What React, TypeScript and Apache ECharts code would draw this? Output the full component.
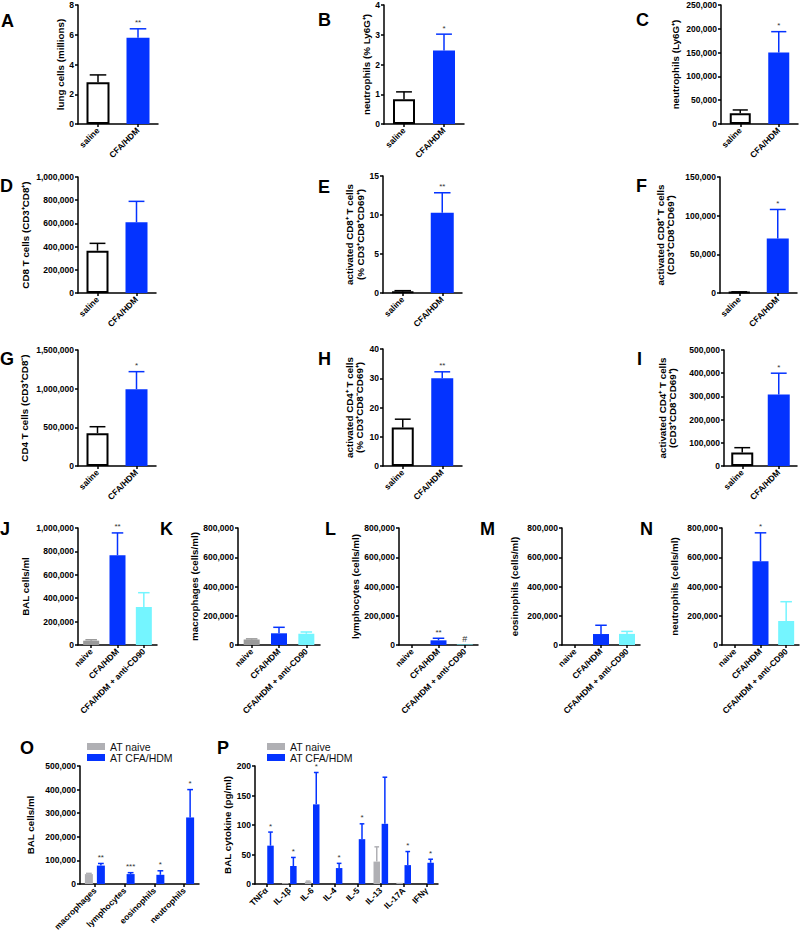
import React, { useEffect, useRef } from 'react';
import * as echarts from 'echarts';

const FONT = 'Arial, "Liberation Sans", Helvetica, sans-serif';
const BLUE = '#0433ff';
const CYAN = '#74f5ff';
const GREY = '#9a9a9a';
const GREY_AT = '#b0b0b4';

// categories
const twoGroups = ['saline', 'CFA/HDM'];
const threeGroups = ['naive', 'CFA/HDM', 'CFA/HDM + anti-CD90'];
const cellTypes = ['macrophages', 'lymphocytes', 'eosinophils', 'neutrophils'];
const cytokines = ['TNFα', 'IL-1β', 'IL-6', 'IL-4', 'IL-5', 'IL-13', 'IL-17A', 'IFNγ'];
const legendNames = ['AT naive', 'AT CFA/HDM'];

// A lung cells (millions)
const aMean = [2.8, 5.8];
const aTop = [3.3, 6.4];
const aSig = ['', '**'];
// B neutrophils (% Ly6G+)
const bMean = [0.83, 2.47];
const bTop = [1.08, 3.02];
const bSig = ['', '*'];
// C neutrophils (Ly6G+)
const cMean = [22500, 150000];
const cTop = [29500, 194000];
const cSig = ['', '*'];
// D CD8 T cells
const dMean = [365000, 610000];
const dTop = [428000, 790000];
const dSig = ['', ''];
// E activated CD8 (%)
const eMean = [0.2, 10.3];
const eTop = [0.3, 12.85];
const eSig = ['', '**'];
// F activated CD8 (count)
const fMean = [1000, 70500];
const fTop = [1500, 108000];
const fSig = ['', '*'];
// G CD4 T cells
const gMean = [425000, 993000];
const gTop = [508000, 1220000];
const gSig = ['', '*'];
// H activated CD4 (%)
const hMean = [13.2, 30.0];
const hTop = [16.0, 32.2];
const hSig = ['', '**'];
// I activated CD4 (count)
const iMean = [58000, 308000];
const iTop = [79000, 400000];
const iSig = ['', '*'];
// J BAL cells/ml
const jMean = [37000, 767000, 325000];
const jTop = [45000, 958000, 447000];
const jSig = ['', '**', ''];
// K macrophages
const kMean = [37000, 80000, 77000];
const kTop = [42000, 121000, 89000];
const kSig = ['', '', ''];
// L lymphocytes
const lMean = [0, 32000, 4000];
const lTop = [0, 46000, 4000];
const lSig = ['', '**', '#'];
// M eosinophils
const mMean = [0, 75000, 76000];
const mTop = [0, 135000, 93000];
const mSig = ['', '', ''];
// N neutrophils
const nMean = [0, 572000, 164000];
const nTop = [0, 767000, 296000];
const nSig = ['', '*', ''];
// O BAL cells/ml adoptive transfer
const oNaiveMean = [42000, 0, 0, 0];
const oNaiveTop = [45000, 0, 0, 0];
const oCfaMean = [78000, 42000, 39000, 282000];
const oCfaTop = [87000, 48000, 56000, 400000];
const oCfaSig = ['**', '***', '*', '*'];
// P BAL cytokine (pg/ml)
const pNaiveMean = [0, 1.5, 4, 0, 0, 38, 2, 0];
const pNaiveTop = [0, 1.5, 5, 0, 0, 63, 2, 0];
const pCfaMean = [65, 30.5, 135, 27, 76, 102, 32, 36];
const pCfaTop = [88, 45, 189, 35, 102, 181, 55, 42];
const pCfaSig = ['*', '*', '*', '*', '*', '', '*', '*'];

const empty = (n: number) => new Array(n).fill('');

type BarSet = {
  name?: string;
  mean: number[];
  top: number[];
  sig: string[];
  fills: string[];
  borders?: string[];
  errColors: string[];
  width: number;
  offset: number;
  mainColor?: string;
};

type Panel = {
  letter: string;
  lx: number;
  ly: number;
  left: number;
  top: number;
  width: number;
  height: number;
  cats: string[];
  max: number;
  interval: number;
  yName: string;
  nameGap: number;
  sets: BarSet[];
  barGap?: string;
};

const twoSet = (mean: number[], top: number[], sig: string[], width: number): BarSet => ({
  mean,
  top,
  sig,
  fills: ['#ffffff', BLUE],
  borders: ['#000000', BLUE],
  errColors: ['#000000', BLUE],
  width,
  offset: 0,
});

const threeSet = (mean: number[], top: number[], sig: string[]): BarSet => ({
  mean,
  top,
  sig,
  fills: [GREY, BLUE, CYAN],
  errColors: [GREY, BLUE, CYAN],
  width: 16,
  offset: 0,
});

const panels: Panel[] = [
  { letter: 'A', lx: 1, ly: 12, left: 78, top: 5, width: 80, height: 119, cats: twoGroups, max: 8, interval: 2, yName: 'lung cells (millions)', nameGap: 12, sets: [twoSet(aMean, aTop, aSig, 23)] },
  { letter: 'B', lx: 318, ly: 11, left: 384, top: 5, width: 80, height: 119, cats: twoGroups, max: 4, interval: 1, yName: 'neutrophils (% Ly6G⁺)', nameGap: 11, sets: [twoSet(bMean, bTop, bSig, 22)] },
  { letter: 'C', lx: 636, ly: 11, left: 721, top: 5, width: 77, height: 119, cats: twoGroups, max: 250000, interval: 50000, yName: 'neutrophils (Ly6G⁺)', nameGap: 40, sets: [twoSet(cMean, cTop, cSig, 21)] },
  { letter: 'D', lx: 0, ly: 177, left: 78, top: 177, width: 78, height: 116, cats: twoGroups, max: 1000000, interval: 200000, yName: 'CD8 T cells (CD3⁺CD8⁺)', nameGap: 47, sets: [twoSet(dMean, dTop, dSig, 22)] },
  { letter: 'E', lx: 318, ly: 178, left: 383, top: 176, width: 79, height: 117, cats: twoGroups, max: 15, interval: 5, yName: 'activated CD8⁺ T cells\n(% CD3⁺CD8⁺CD69⁺)', nameGap: 17, sets: [twoSet(eMean, eTop, eSig, 23)] },
  { letter: 'F', lx: 636, ly: 177, left: 720, top: 177, width: 77, height: 116, cats: twoGroups, max: 150000, interval: 50000, yName: 'activated CD8⁺ T cells\n(CD3⁺CD8⁺CD69⁺)', nameGap: 44, sets: [twoSet(fMean, fTop, fSig, 22)] },
  { letter: 'G', lx: 0, ly: 350, left: 78, top: 350, width: 78, height: 116, cats: twoGroups, max: 1500000, interval: 500000, yName: 'CD4 T cells (CD3⁺CD8⁻)', nameGap: 48, sets: [twoSet(gMean, gTop, gSig, 22)] },
  { letter: 'H', lx: 318, ly: 350, left: 383, top: 349, width: 79, height: 117, cats: twoGroups, max: 40, interval: 10, yName: 'activated CD4⁺ T cells\n(% CD3⁺CD8⁻CD69⁺)', nameGap: 18, sets: [twoSet(hMean, hTop, hSig, 22)] },
  { letter: 'I', lx: 637, ly: 350, left: 724, top: 350, width: 73, height: 116, cats: twoGroups, max: 500000, interval: 100000, yName: 'activated CD4⁺ T cells\n(CD3⁺CD8⁻CD69⁺)', nameGap: 46, sets: [twoSet(iMean, iTop, iSig, 22)] },
  { letter: 'J', lx: 0, ly: 520, left: 78, top: 528, width: 79, height: 117, cats: threeGroups, max: 1000000, interval: 200000, yName: 'BAL cells/ml', nameGap: 47, sets: [threeSet(jMean, jTop, jSig)] },
  { letter: 'K', lx: 160, ly: 520, left: 238, top: 528, width: 82, height: 117, cats: threeGroups, max: 800000, interval: 200000, yName: 'macrophages (cells/ml)', nameGap: 38, sets: [threeSet(kMean, kTop, kSig)] },
  { letter: 'L', lx: 325, ly: 520, left: 399, top: 528, width: 79, height: 117, cats: threeGroups, max: 800000, interval: 200000, yName: 'lymphocytes (cells/ml)', nameGap: 38, sets: [threeSet(lMean, lTop, lSig)] },
  { letter: 'M', lx: 480, ly: 520, left: 562, top: 528, width: 78, height: 117, cats: threeGroups, max: 800000, interval: 200000, yName: 'eosinophils (cells/ml)', nameGap: 42, sets: [threeSet(mMean, mTop, mSig)] },
  { letter: 'N', lx: 640, ly: 520, left: 722, top: 528, width: 77, height: 117, cats: threeGroups, max: 800000, interval: 200000, yName: 'neutrophils (cells/ml)', nameGap: 42, sets: [threeSet(nMean, nTop, nSig)] },
  {
    letter: 'O', lx: 20, ly: 739, left: 80, top: 766, width: 119, height: 118, cats: cellTypes, max: 500000, interval: 100000, yName: 'BAL cells/ml', nameGap: 44, barGap: '50%',
    sets: [
      { name: legendNames[0], mean: oNaiveMean, top: oNaiveTop, sig: empty(4), fills: new Array(4).fill(GREY_AT), errColors: new Array(4).fill(GREY_AT), width: 8, offset: -6, mainColor: GREY_AT },
      { name: legendNames[1], mean: oCfaMean, top: oCfaTop, sig: oCfaSig, fills: new Array(4).fill(BLUE), errColors: new Array(4).fill(BLUE), width: 8, offset: 6, mainColor: BLUE },
    ],
  },
  {
    letter: 'P', lx: 217, ly: 739, left: 255, top: 766, width: 183, height: 118, cats: cytokines, max: 200, interval: 50, yName: 'BAL cytokine (pg/ml)', nameGap: 20, barGap: '25%',
    sets: [
      { name: legendNames[0], mean: pNaiveMean, top: pNaiveTop, sig: empty(8), fills: new Array(8).fill(GREY_AT), errColors: new Array(8).fill(GREY_AT), width: 6.5, offset: -4.06, mainColor: GREY_AT },
      { name: legendNames[1], mean: pCfaMean, top: pCfaTop, sig: pCfaSig, fills: new Array(8).fill(BLUE), errColors: new Array(8).fill(BLUE), width: 6.5, offset: 4.06, mainColor: BLUE },
    ],
  },
];

function buildOption() {
  const grid: any[] = [];
  const xAxis: any[] = [];
  const yAxis: any[] = [];
  const series: any[] = [];
  const graphic: any[] = [];
  const axisLine = { show: true, lineStyle: { color: '#000', width: 1.5 } };
  const axisTick = { show: true, length: 3, lineStyle: { color: '#000', width: 1.5 } };

  panels.forEach((p, idx) => {
    grid.push({ left: p.left, top: p.top, width: p.width, height: p.height, containLabel: false });
    xAxis.push({
      type: 'category',
      gridIndex: idx,
      data: p.cats,
      axisLine,
      axisTick: { ...axisTick, alignWithLabel: true },
      axisLabel: { rotate: 45, interval: 0, fontSize: 8.5, fontWeight: 'bold', color: '#000', margin: 5, fontFamily: FONT },
      splitLine: { show: false },
    });
    yAxis.push({
      type: 'value',
      gridIndex: idx,
      min: 0,
      max: p.max,
      interval: p.interval,
      axisLine,
      axisTick,
      axisLabel: {
        fontSize: 8.5,
        fontWeight: 'bold',
        color: '#000',
        margin: 4,
        fontFamily: FONT,
        formatter: (v: number) => v.toLocaleString('en-US'),
      },
      splitLine: { show: false },
      name: p.yName,
      nameLocation: 'middle',
      nameGap: p.nameGap,
      nameTextStyle: { fontSize: 9.8, fontWeight: 'bold', color: '#000', lineHeight: 10.5, fontFamily: FONT },
    });
    p.sets.forEach((s) => {
      series.push({
        type: 'bar',
        name: s.name,
        xAxisIndex: idx,
        yAxisIndex: idx,
        barWidth: s.width,
        barGap: p.barGap || '30%',
        itemStyle: s.mainColor ? { color: s.mainColor } : undefined,
        data: s.mean.map((v, i) => ({
          value: v,
          itemStyle: {
            color: s.fills[i],
            borderColor: s.borders ? s.borders[i] : s.fills[i],
            borderWidth: s.borders && s.borders[i] === '#000000' ? 2 : 0,
          },
        })),
      });
    });
    p.sets.forEach((s) => {
      series.push({
        type: 'custom',
        xAxisIndex: idx,
        yAxisIndex: idx,
        clip: false,
        z: 5,
        encode: { x: 0, y: [1, 2] },
        data: s.mean.map((v, i) => [i, v, s.top[i]]),
        renderItem: (params: any, api: any) => {
          const i = params.dataIndex;
          const x = api.value(0);
          const v = api.value(1);
          const t = api.value(2);
          const p0 = api.coord([x, v]);
          const p1 = api.coord([x, t]);
          const cx = p0[0] + s.offset;
          const cap = s.width * 0.72;
          const color = s.errColors[i];
          const children: any[] = [];
          if (t > v) {
            children.push({ type: 'line', shape: { x1: cx, y1: p0[1], x2: cx, y2: p1[1] }, style: { stroke: color, lineWidth: 1.5 } });
            children.push({ type: 'line', shape: { x1: cx - cap / 2, y1: p1[1], x2: cx + cap / 2, y2: p1[1] }, style: { stroke: color, lineWidth: 1.5 } });
          }
          const sg = s.sig[i];
          if (sg) {
            const isHash = sg === '#';
            children.push({
              type: 'text',
              style: {
                text: sg,
                x: cx,
                y: p1[1] - (isHash ? 1 : 2),
                align: 'center',
                verticalAlign: 'bottom',
                fontSize: isHash ? 9 : 8,
                fontFamily: FONT,
                fill: '#333',
              },
            });
          }
          return { type: 'group', children };
        },
      });
    });
    graphic.push({
      type: 'text',
      x: p.lx,
      y: p.ly,
      style: { text: p.letter, fontSize: 18, fontWeight: 'bold', fontFamily: FONT, fill: '#000', verticalAlign: 'top', align: 'left' },
    });
  });

  const legendBase = {
    data: legendNames,
    orient: 'vertical',
    itemWidth: 18,
    itemHeight: 7,
    itemGap: 0,
    icon: 'rect',
    selectedMode: false,
    padding: 0,
    textStyle: { fontSize: 10.5, color: '#111', fontFamily: FONT, lineHeight: 10 },
  };

  return {
    animation: false,
    textStyle: { fontFamily: FONT },
    grid,
    xAxis,
    yAxis,
    series,
    graphic,
    legend: [
      { ...legendBase, left: 87, top: 741 },
      { ...legendBase, left: 267, top: 741 },
    ],
  };
}

export default function App() {
  const ref = useRef<HTMLDivElement>(null);
  useEffect(() => {
    if (!ref.current) return;
    const chart = echarts.init(ref.current, undefined, { renderer: 'svg' });
    chart.setOption(buildOption() as any);
    return () => chart.dispose();
  }, []);
  return (
    <div
      ref={ref}
      style={{ position: 'absolute', left: 0, top: 0, width: 800, height: 940, background: '#fff' }}
    />
  );
}
